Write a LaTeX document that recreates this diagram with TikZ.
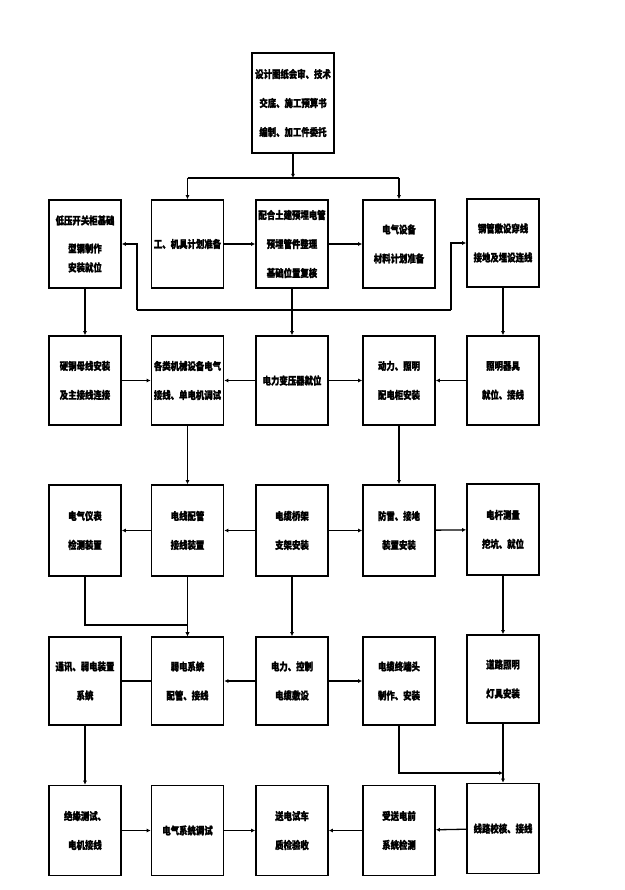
\documentclass[tikz,border=0pt]{standalone}
\usepackage{fontspec}
\setmainfont{Noto Sans CJK SC}[FakeStretch=0.8,FakeBold=1.5]
\usetikzlibrary{arrows.meta}
\begin{document}
\begin{tikzpicture}[x=1pt,y=-1pt,
  box/.style={draw, line width=1.6pt, minimum width=72pt, inner sep=0pt, align=center,
    font=\fontsize{10.5}{29}\selectfont\bfseries},
  conn/.style={line width=1.3pt},
  arr/.style={conn, -{Latex[length=4pt,width=4pt]}}]
\useasboundingbox (0,0) rectangle (624,890);
% top
\node[box, minimum width=82pt, minimum height=100pt] (top) at (293,103) {设计图纸会审、技术\\交底、施工预算书\\编制、加工件委托};
% row 1
\node[box, minimum height=88pt] (a1) at (85,244) {低压开关柜基础\\[-1pt]型钢制作\\[-10pt]安装就位};
\node[box, minimum height=88pt] (a2) at (187.5,244) {工、机具计划准备};
\node[box, minimum height=88pt] (a3) at (292,244) {配合土建预埋电管\\预埋管件整理\\基础位置复核};
\node[box, minimum height=88pt] (a4) at (399,244) {电气设备\\材料计划准备};
\node[box, minimum height=88pt] (a5) at (503,243) {钢管敷设穿线\\接地及埋设连线};
% row 2
\node[box, minimum height=89pt] (b1) at (85,380.5) {硬铜母线安装\\及主接线连接};
\node[box, minimum height=89pt] (b2) at (187.5,380.5) {各类机械设备电气\\接线、单电机调试};
\node[box, minimum height=89pt] (b3) at (292,380.5) {电力变压器就位};
\node[box, minimum height=89pt] (b4) at (399,380.5) {动力、照明\\配电柜安装};
\node[box, minimum height=89pt] (b5) at (503,380.5) {照明器具\\就位、接线};
% row 3
\node[box, minimum height=91pt] (c1) at (85,530.5) {电气仪表\\检测装置};
\node[box, minimum height=91pt] (c2) at (187.5,530.5) {电线配管\\接线装置};
\node[box, minimum height=91pt] (c3) at (292,530.5) {电缆桥架\\支架安装};
\node[box, minimum height=91pt] (c4) at (399,530.5) {防雷、接地\\装置安装};
\node[box, minimum height=91pt] (c5) at (503,529.5) {电杆测量\\挖坑、就位};
% row 4
\node[box, minimum height=88pt] (d1) at (85,681) {通讯、弱电装置\\系统};
\node[box, minimum height=88pt] (d2) at (187.5,681) {弱电系统\\配管、接线};
\node[box, minimum height=88pt] (d3) at (292,681) {电力、控制\\电缆敷设};
\node[box, minimum height=88pt] (d4) at (399,681) {电缆终端头\\制作、安装};
\node[box, minimum height=88pt] (d5) at (503,679) {道路照明\\灯具安装};
% row 5
\node[box, minimum height=90pt] (e1) at (85,830.5) {绝缘测试、\\电机接线};
\node[box, minimum height=90pt] (e2) at (187.5,830.5) {电气系统调试};
\node[box, minimum height=90pt] (e3) at (292,830.5) {送电试车\\质检验收};
\node[box, minimum height=90pt] (e4) at (399,830.5) {受送电前\\系统检测};
\node[box, minimum height=90pt] (e5) at (503,828.5) {线路校核、接线};
% helper coordinates
\coordinate (busy) at (0,178);
\coordinate (loopy) at (0,310);
\coordinate (lx1) at (137,0);
\coordinate (lx5) at (451,0);
\coordinate (jy) at (0,625);
\coordinate (ky) at (0,773);
% top bus
\draw[arr] (top.south) -- (top.south |- busy);
\draw[conn] (a2.north |- busy) -- (a4.north |- busy);
\draw[arr] (a2.north |- busy) -- (a2.north);
\draw[arr] (a4.north |- busy) -- (a4.north);
% row 1
\draw[arr] (a2) -- (a3);
\draw[arr] (a3) -- (a4);
\draw[arr] (lx1 |- loopy) -- (lx1 |- a1.east) -- (a1.east);
\draw[conn] (lx1 |- loopy) -- (lx5 |- loopy);
\draw[arr] (lx5 |- loopy) -- (lx5 |- a5.west) -- (a5.west);
\draw[arr] (a3) -- (b3);
\draw[arr] (a1) -- (b1);
\draw[arr] (a5) -- (b5);
% row 2
\draw[arr] (b1) -- (b2);
\draw[arr] (b3) -- (b2);
\draw[arr] (b3) -- (b4);
\draw[arr] (b5) -- (b4);
\draw[arr] (b2) -- (c2);
\draw[arr] (b4) -- (c4);
% row 3
\draw[arr] (c2) -- (c1);
\draw[arr] (c3) -- (c2);
\draw[arr] (c3) -- (c4);
\draw[arr] (c4) -- (c5);
\draw[arr] (c1.south) -- (c1.south |- jy) -- (d2.north |- jy) -- (d2.north);
\draw[arr] (c2) -- (d2);
\draw[arr] (c3) -- (d3);
\draw[arr] (c5) -- (d5);
% row 4
\draw[conn] (d1) -- (d2);
\draw[arr] (d3) -- (d2);
\draw[arr] (d3) -- (d4);
\draw[arr] (d1) -- (e1);
\draw[arr] (d5) -- (e5);
\draw[arr] (d4.south) -- (d4.south |- ky) -- (d5.south |- ky);
% row 5
\draw[arr] (e1) -- (e2);
\draw[arr] (e2) -- (e3);
\draw[arr] (e4) -- (e3);
\draw[arr] (e5) -- (e4);
\end{tikzpicture}
\end{document}
